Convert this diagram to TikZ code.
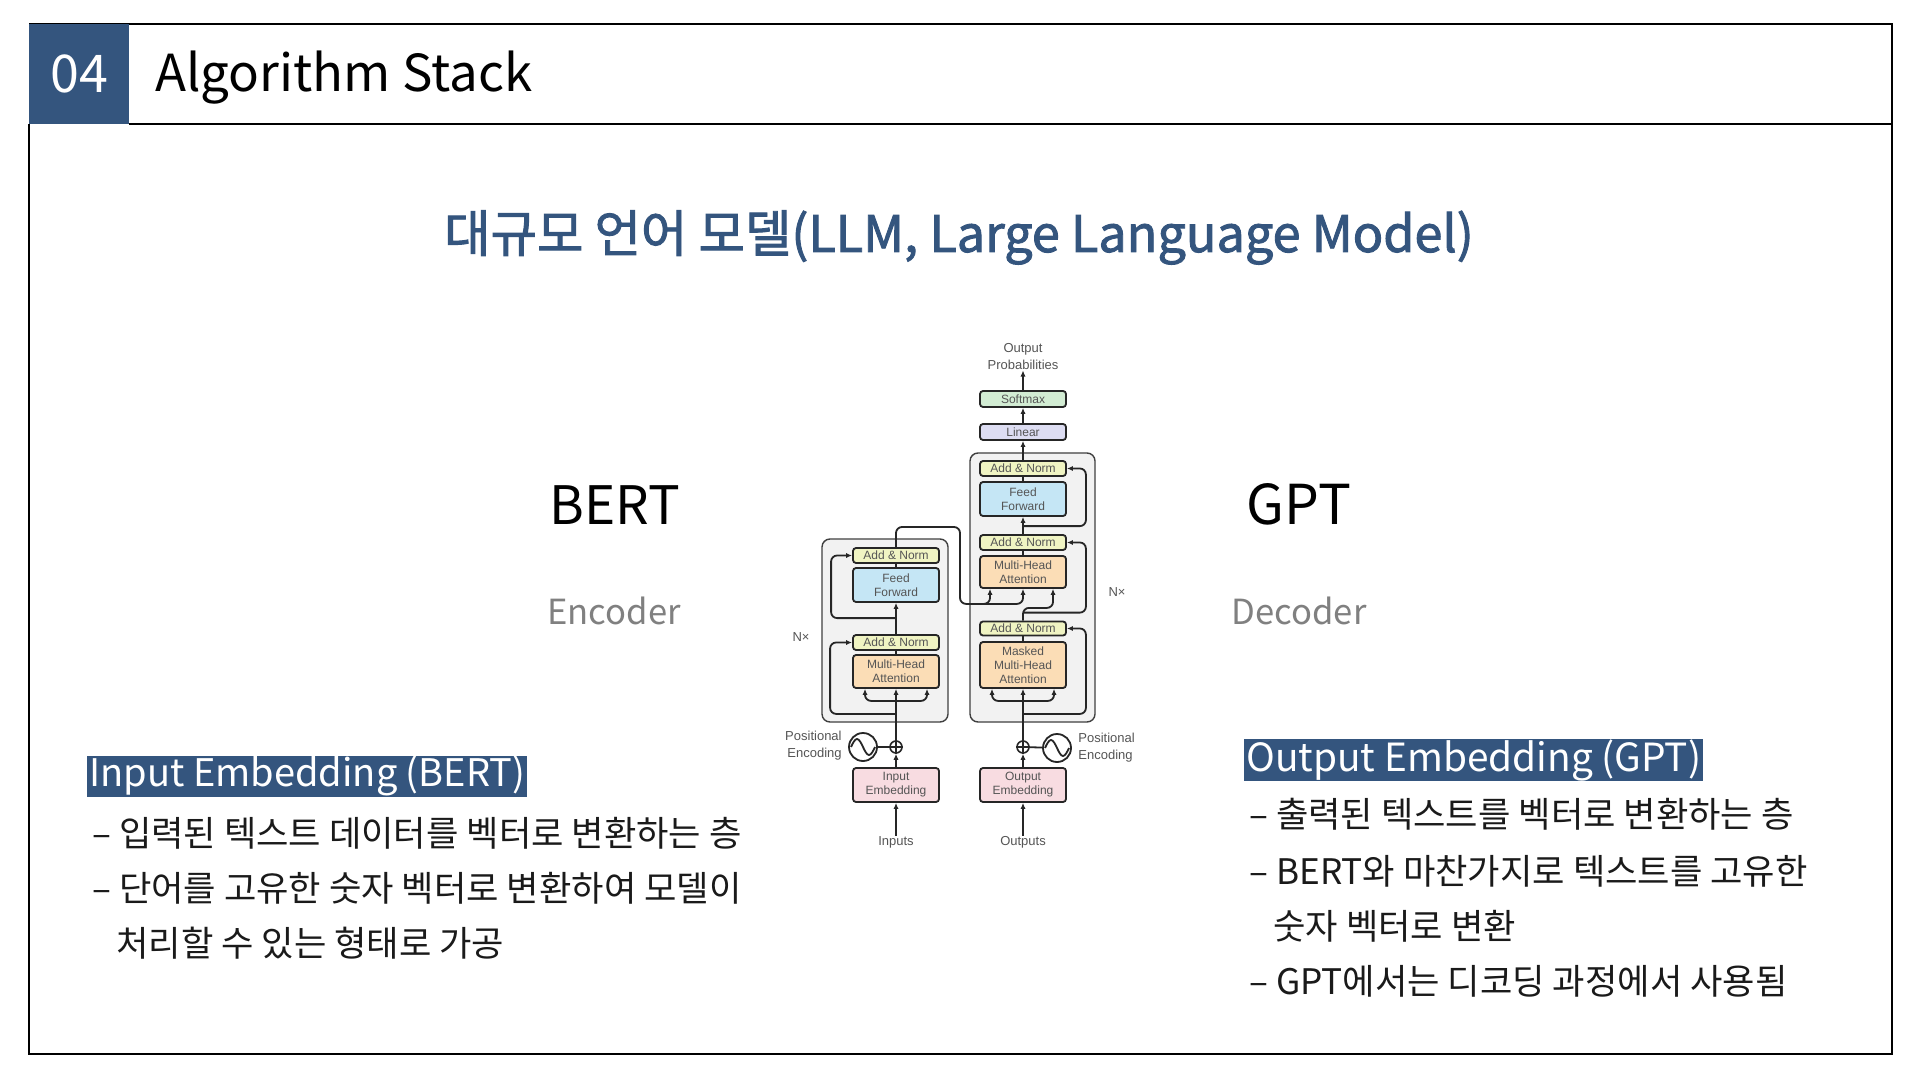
\documentclass[tikz,border=0pt]{standalone}
\usepackage{fontspec}
\setmainfont{Noto Sans CJK KR}
\newfontfamily\subfont{Noto Sans CJK KR}[FakeBold=1.8]
\newfontfamily\diafont{Liberation Sans}
\usetikzlibrary{arrows.meta,calc}
\definecolor{hblue}{HTML}{34557E}
\definecolor{anfill}{HTML}{F0F4C3}
\definecolor{fffill}{HTML}{C5E6F5}
\definecolor{mhafill}{HTML}{FBDDB6}
\definecolor{embfill}{HTML}{F8DCE1}
\definecolor{linfill}{HTML}{DDDDF2}
\definecolor{smfill}{HTML}{D2ECD3}
\definecolor{boxfill}{HTML}{F2F2F2}
\definecolor{diatext}{HTML}{555555}
\definecolor{bodytext}{HTML}{1A1A1A}
\definecolor{graytext}{HTML}{808080}
\tikzset{
  blk/.style={draw=black!85, line width=0.9pt, rounded corners=1.5pt, minimum width=43pt,
    inner sep=0pt, font=\diafont\fontsize{6}{7}\selectfont, text=diatext, align=center},
  an/.style={blk, fill=anfill, minimum height=7.5pt},
  ff/.style={blk, fill=fffill, minimum height=17pt},
  mha/.style={blk, fill=mhafill, minimum height=16.5pt},
  emb/.style={blk, fill=embfill, minimum height=17pt},
  outer/.style={draw=black!75, line width=0.7pt, fill=boxfill, rounded corners=4pt, inner sep=0pt},
  conn/.style={line width=0.9pt, draw=black!85, rounded corners=3pt},
  arr/.style={conn, -{Latex[length=3pt,width=2.6pt]}},
  dlabel/.style={font=\diafont\fontsize{6.5}{8.5}\selectfont, text=diatext, inner sep=0pt},
  pe/.style={circle, draw=black!85, line width=0.9pt, minimum size=14pt, inner sep=0pt},
  plus/.style={circle, draw=black!85, line width=0.8pt, minimum size=6pt, inner sep=0pt},
  body/.style={anchor=west, inner sep=0pt, text=bodytext, font=\fontsize{17.6}{20}\selectfont},
  head/.style={anchor=west, inner xsep=1pt, inner ysep=0pt, minimum height=20.5pt, fill=hblue, text=white, font=\fontsize{19}{22}\selectfont},
}
\begin{document}
\begin{tikzpicture}[x=0.5pt,y=-0.5pt]
\useasboundingbox (0,0) rectangle (1920,1080);
\fill[white] (0,0) rectangle (1920,1080);
% frame
\draw[line width=0.7pt] (29,24) -- (1892,24) -- (1892,1054) -- (29,1054) -- (29,124);
\draw[line width=0.7pt] (129,124) -- (1892,124);
\node[fill=hblue, minimum width=50pt, minimum height=50pt, inner sep=0pt] (num) at (79,74) {};
\node[anchor=base, text=white, inner sep=0pt, font=\fontsize{26}{30}\selectfont] (numtxt) at (79,93) {04};
\node[anchor=base west, inner sep=0pt, font=\fontsize{25.5}{30}\selectfont] (title) at (155,92) {Algorithm Stack};
% subtitle
\node[anchor=base, inner sep=0pt, text=hblue, font=\subfont\fontsize{25.2}{30}\selectfont] (sub) at (959,252) {대규모 언어 모델(LLM, Large Language Model)};
% side labels
\node[anchor=base, inner sep=0pt, font=\fontsize{26.5}{30}\selectfont] (bert) at (615,524) {BERT};
\node[anchor=base, inner sep=0pt, text=graytext, font=\fontsize{17.3}{20}\selectfont] (enc) at (614,624) {Encoder};
\node[anchor=base, inner sep=0pt, font=\fontsize{27.5}{30}\selectfont] (gpt) at (1299,524) {GPT};
\node[anchor=base, inner sep=0pt, text=graytext, font=\fontsize{17.3}{20}\selectfont] (dec) at (1299,624) {Decoder};
% left text
\node[head] (inhead) at (87,776) {Input Embedding (BERT)};
\node[body] (l1) at (92,833) {– 입력된 텍스트 데이터를 벡터로 변환하는 층};
\node[body] (l2) at (92,888) {– 단어를 고유한 숫자 벡터로 변환하여 모델이};
\node[body] (l3) at (116,943) {처리할 수 있는 형태로 가공};
% right text
\node[head, font=\fontsize{19.4}{22}\selectfont] (outhead) at (1244,760) {Output Embedding (GPT)};
\node[body] (r1) at (1249,814) {– 출력된 텍스트를 벡터로 변환하는 층};
\node[body] (r2) at (1249,871) {– BERT와 마찬가지로 텍스트를 고유한};
\node[body] (r3) at (1273,926) {숫자 벡터로 변환};
\node[body] (r4) at (1249,981) {– GPT에서는 디코딩 과정에서 사용됨};

% ===== transformer =====
\node[outer, minimum width=63pt, minimum height=91.5pt] (encbox) at (885,630.5) {};
\node[outer, minimum width=62.5pt, minimum height=134.5pt] (decbox) at (1032.5,587.5) {};
% encoder
\node[an] (eAN2) at (896,555.5) {Add \& Norm};
\node[ff] (eFF) at (896,585) {Feed\\Forward};
\node[an] (eAN1) at (896,642.5) {Add \& Norm};
\node[mha] (eMHA) at (896,671.5) {Multi-Head\\Attention};
\node[plus] (ePlus) at (896,747) {};
\node[pe] (ePE) at (863,747) {};
\node[emb] (iemb) at (896,785) {Input\\Embedding};
\node[dlabel] (inputs) at (896,842) {Inputs};
\node[dlabel, anchor=east, align=right] (epetxt) at (842,746) {Positional\\Encoding};
\node[dlabel] (enx) at (801,637) {N×};
% decoder
\node[blk, fill=smfill, minimum height=8pt] (soft) at (1023,399) {Softmax};
\node[blk, fill=linfill, minimum height=8pt] (lin) at (1023,432) {Linear};
\node[an] (dAN3) at (1023,468.5) {Add \& Norm};
\node[ff] (dFF) at (1023,499) {Feed\\Forward};
\node[an] (dAN2) at (1023,542.5) {Add \& Norm};
\node[mha, minimum height=16pt] (dMHA) at (1023,572) {Multi-Head\\Attention};
\node[an, minimum height=7pt] (dAN1) at (1023,628.5) {Add \& Norm};
\node[mha, minimum height=23pt] (dMMHA) at (1023,665) {Masked\\Multi-Head\\Attention};
\node[plus] (dPlus) at (1023,747) {};
\node[pe] (dPE) at (1057,748) {};
\node[emb] (oemb) at (1023,785) {Output\\Embedding};
\node[dlabel] (outputs) at (1023,842) {Outputs};
\node[dlabel, anchor=west, align=left] (dpetxt) at (1078,748) {Positional\\Encoding};
\node[dlabel] (dnx) at (1117,592) {N×};
\node[dlabel, align=center] (oprob) at (1023,357) {Output\\Probabilities};

% plus signs and waves
\foreach \p in {ePlus,dPlus}{
  \draw[line width=0.8pt, draw=black!85] (\p.north) -- (\p.south) (\p.west) -- (\p.east);
}
\foreach \w in {ePE,dPE}{
  \draw[line width=0.9pt, draw=black!85] ($(\w)+(-12,0)$) sin ($(\w)+(-6,-8)$) cos (\w.center) sin ($(\w)+(6,8)$) cos ($(\w)+(12,0)$);
}

% encoder connectors
\draw[arr] (inputs) -- (iemb);
\draw[arr] (iemb) -- (ePlus);
\draw[conn] (ePE) -- (ePlus);
\draw[arr] (ePlus) -- (eMHA);
\draw[arr] ($(eMHA.south)+(0,12)$) -| ($(eMHA.south)+(-31,0)$);
\draw[arr] ($(eMHA.south)+(0,12)$) -| ($(eMHA.south)+(31,0)$);
\draw[arr] ($(eMHA.south)+(0,25)$) -| ($(eAN1.west)+(-22,0)$) -- (eAN1.west);
\draw[conn] (eMHA) -- (eAN1);
\draw[arr] (eAN1) -- (eFF);
\draw[arr] ($(eAN1.north)+(0,-16)$) -| ($(eAN2.west)+(-21,0)$) -- (eAN2.west);
\draw[conn] (eFF) -- (eAN2);
% encoder to decoder
\draw[arr] (eAN2.north) |- (960,527) |- ($(dMHA.south)+(-33,15)$) -- ($(dMHA.south)+(-33,0)$);
\draw[arr] ($(dMHA.south)+(-40,15)$) -| (dMHA.south);
% decoder connectors
\draw[arr] (outputs) -- (oemb);
\draw[arr] (oemb) -- (dPlus);
\draw[conn] (dPE) -- (dPlus);
\draw[arr] (dPlus) -- (dMMHA);
\draw[arr] ($(dMMHA.south)+(0,12)$) -| ($(dMMHA.south)+(-31,0)$);
\draw[arr] ($(dMMHA.south)+(0,12)$) -| ($(dMMHA.south)+(31,0)$);
\draw[arr] ($(dMMHA.south)+(0,25)$) -| ($(dAN1.east)+(19,0)$) -- (dAN1.east);
\draw[conn] (dMMHA) -- (dAN1);
\draw[arr] (dAN1.north) |- ($(dMHA.south)+(30,19)$) -- ($(dMHA.south)+(30,0)$);
\draw[arr] ($(dAN1.north)+(0,-8)$) -| ($(dAN2.east)+(19,0)$) -- (dAN2.east);
\draw[conn] (dMHA) -- (dAN2);
\draw[arr] (dAN2) -- (dFF);
\draw[arr] ($(dAN2.north)+(0,-8)$) -| ($(dAN3.east)+(19,0)$) -- (dAN3.east);
\draw[conn] (dFF) -- (dAN3);
\draw[arr] (dAN3) -- (lin);
\draw[arr] (lin) -- (soft);
\draw[arr] (soft) -- (oprob);
\end{tikzpicture}
\end{document}
